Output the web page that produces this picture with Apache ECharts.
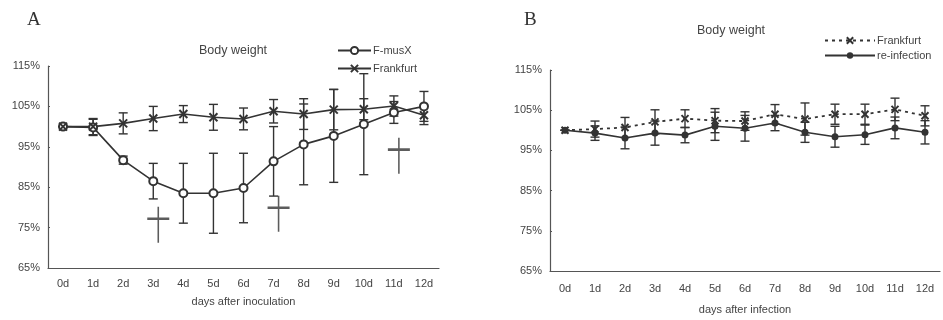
<!DOCTYPE html>
<html>
<head>
<meta charset="utf-8">
<script src="https://cdn.jsdelivr.net/npm/echarts@6/dist/echarts.min.js"></script>
<style>
html,body{margin:0;padding:0;background:#fff;}
#chart{width:943px;height:320px;}
</style>
</head>
<body>
<div id="chart"></div>
<script>
// body weight after inoculation (A) and re-infection (B), % of day 0
var days = ['0d','1d','2d','3d','4d','5d','6d','7d','8d','9d','10d','11d','12d'];
var yTicks = [65, 75, 85, 95, 105, 115];

var fmusxA    = [100, 99.8, 91.7, 86.5, 83.5, 83.5, 84.8, 91.4, 95.6, 97.7, 100.6, 103.5, 105.0];
var fmusxAErr = [0, 2, 1, 4.4, 7.4, 9.9, 8.6, 8.6, 10, 11.5, 12.5, 2.7, 3.7];
var frankA    = [100, 100, 100.8, 102.0, 103.1, 102.3, 101.9, 103.8, 103.1, 104.2, 104.3, 105.1, 102.8];
var frankAErr = [0, 2, 2.6, 3, 2.1, 3.2, 2.7, 2.9, 3.8, 5, 2.6, 2.5, 2.3];

// dagger marks (deaths) in panel A
var deathDay = [3, 7, 11];
var deathVal = [77.2, 79.9, 94.3];

var frankB    = [100, 100.3, 100.7, 102.1, 102.9, 102.4, 102.3, 104.0, 102.8, 104.0, 104.0, 105.2, 103.6];
var frankBErr = [0, 2, 2.5, 3, 2.2, 3, 2.3, 2.4, 4, 2.5, 2.5, 2.8, 2.5];
var reinfB    = [100, 99.3, 98.1, 99.3, 98.8, 101.0, 100.5, 101.8, 99.5, 98.4, 98.9, 100.6, 99.5];
var reinfBErr = [0, 1.8, 2.7, 3, 1.9, 3.5, 3.2, 1.9, 2.5, 2.6, 2.4, 2.7, 2.9];

var ink = '#333';
var txt = '#444';
var font = 'Liberation Sans';
var xMark = 'path://M0,0L10,10M10,0L0,10';
var dagger = 'path://M11,0L11,36M0,12L22,12';

function errorBars(idx, vals, errs){
	var data = [];
	for(var i=0;i<vals.length;i++){
		data.push([i, vals[i]-errs[i], vals[i]+errs[i]]);
	}
	return {
		type: 'custom',
		xAxisIndex: idx,
		yAxisIndex: idx,
		silent: true,
		z: 1,
		encode: {x: 0, y: [1, 2]},
		data: data,
		renderItem: function(params, api){
			var lo = api.coord([api.value(0), api.value(1)]);
			var hi = api.coord([api.value(0), api.value(2)]);
			var w = 4.5;
			var st = {stroke: ink, lineWidth: 1.4};
			return {
				type: 'group',
				children: [
					{type:'line', shape:{x1:lo[0], y1:lo[1], x2:hi[0], y2:hi[1]}, style:st},
					{type:'line', shape:{x1:lo[0]-w, y1:lo[1], x2:lo[0]+w, y2:lo[1]}, style:st},
					{type:'line', shape:{x1:hi[0]-w, y1:hi[1], x2:hi[0]+w, y2:hi[1]}, style:st}
				]
			};
		}
	};
}

function xAxisOf(idx, name, margin, gap){
	return {
		type: 'category',
		gridIndex: idx,
		data: days,
		boundaryGap: true,
		name: name,
		nameLocation: 'middle',
		nameGap: gap,
		nameTextStyle: {color: txt, fontSize: 11, fontFamily: font},
		axisLine: {lineStyle: {color: '#555', width: 1.2}},
		axisTick: {inside: true, length: 3, lineStyle: {color: '#555'}},
		axisLabel: {color: txt, fontSize: 11, fontFamily: font, margin: margin},
		splitLine: {show: false}
	};
}

function yAxisOf(idx){
	return {
		type: 'value',
		gridIndex: idx,
		min: yTicks[0],
		max: yTicks[yTicks.length-1],
		interval: 10,
		axisLine: {show: true, lineStyle: {color: '#555', width: 1.2}},
		axisTick: {show: true, inside: true, length: 2, lineStyle: {color: '#555'}},
		axisLabel: {color: txt, fontSize: 11, fontFamily: font, margin: 8, formatter: '{value}%'},
		splitLine: {show: false}
	};
}

var myChart = echarts.init(document.getElementById('chart'));
var option = {
	backgroundColor: '#fff',
	animation: false,
	title: [
		{text: 'A', left: 22, top: 6, textStyle: {fontFamily: 'Liberation Serif', fontSize: 19, fontWeight: 'normal', color: ink}},
		{text: 'B', left: 519, top: 6, textStyle: {fontFamily: 'Liberation Serif', fontSize: 19, fontWeight: 'normal', color: ink}},
		{text: 'Body weight', left: 194, top: 39, textStyle: {fontFamily: font, fontSize: 12.5, fontWeight: 'normal', color: txt}},
		{text: 'Body weight', left: 692, top: 19, textStyle: {fontFamily: font, fontSize: 12.5, fontWeight: 'normal', color: txt}}
	],
	legend: [
		{
			data: ['F-musX', 'Frankfurt'],
			orient: 'vertical',
			left: 332, top: 40,
			itemWidth: 33, itemHeight: 9, itemGap: 7,
			textStyle: {color: txt, fontSize: 11, fontFamily: font, padding: [0,0,0,-3]}
		},
		{
			data: ['Frankfurt (B)', 're-infection'],
			orient: 'vertical',
			left: 819, top: 30,
			itemWidth: 50, itemHeight: 8, itemGap: 4,
			formatter: function(name){ return name.replace(' (B)', ''); },
			textStyle: {color: txt, fontSize: 11, fontFamily: font, padding: [0,0,0,-3]}
		}
	],
	grid: [
		{left: 48, right: 504, top: 66, bottom: 52},
		{left: 550, right: 3, top: 70, bottom: 48}
	],
	xAxis: [
		xAxisOf(0, 'days after inoculation', 10, 28),
		xAxisOf(1, 'days after infection', 12, 33)
	],
	yAxis: [yAxisOf(0), yAxisOf(1)],
	series: [
		errorBars(0, fmusxA, fmusxAErr),
		errorBars(0, frankA, frankAErr),
		errorBars(1, frankB, frankBErr),
		errorBars(1, reinfB, reinfBErr),
		{
			name: 'F-musX',
			type: 'line',
			xAxisIndex: 0, yAxisIndex: 0,
			data: fmusxA,
			symbol: 'emptyCircle',
			symbolSize: 8,
			lineStyle: {color: ink, width: 1.6},
			itemStyle: {color: ink, borderColor: ink, borderWidth: 1.6},
			z: 3
		},
		{
			name: 'Frankfurt',
			type: 'line',
			xAxisIndex: 0, yAxisIndex: 0,
			data: frankA,
			symbol: xMark,
			symbolSize: 8,
			lineStyle: {color: ink, width: 1.6},
			itemStyle: {color: ink, borderColor: ink, borderWidth: 2},
			z: 3
		},
		{
			name: 'Frankfurt (B)',
			type: 'line',
			xAxisIndex: 1, yAxisIndex: 1,
			data: frankB,
			symbol: xMark,
			symbolSize: 7,
			lineStyle: {color: ink, width: 1.8, type: [3, 4]},
			itemStyle: {color: ink, borderColor: ink, borderWidth: 2},
			z: 3
		},
		{
			name: 're-infection',
			type: 'line',
			xAxisIndex: 1, yAxisIndex: 1,
			data: reinfB,
			symbol: 'circle',
			symbolSize: 7,
			lineStyle: {color: ink, width: 1.6},
			itemStyle: {color: ink},
			z: 3
		},
		{
			name: 'death',
			type: 'scatter',
			xAxisIndex: 0, yAxisIndex: 0,
			data: deathDay.map(function(d, i){ return [d, deathVal[i]]; }),
			symbol: dagger,
			symbolSize: [22, 36],
			symbolOffset: [5, 6],
			itemStyle: {color: 'rgba(0,0,0,0)', borderColor: ink, borderWidth: 2},
			silent: true,
			z: 2
		}
	]
};
myChart.setOption(option);
</script>
</body>
</html>
